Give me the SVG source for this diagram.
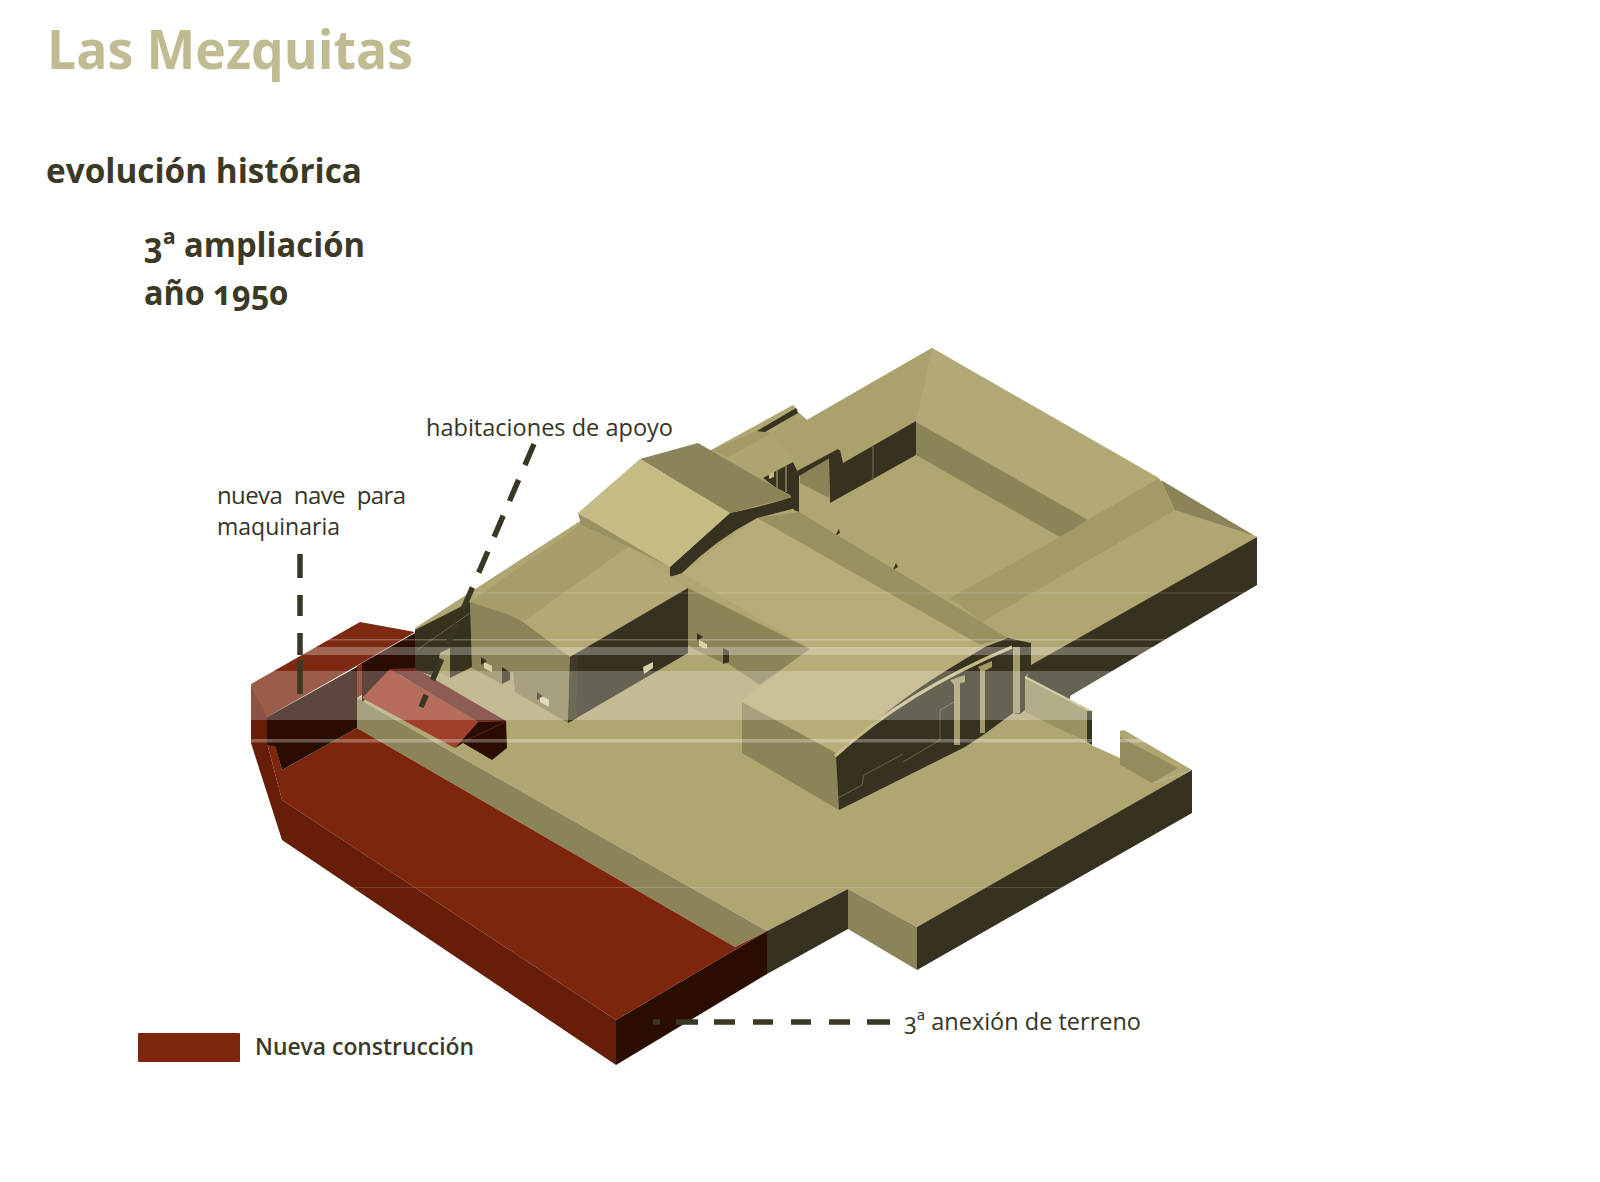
<svg xmlns="http://www.w3.org/2000/svg" width="1600" height="1182" viewBox="0 0 1600 1182">
<style>
.t{font-family:"Open Sans","Noto Sans","Liberation Sans",sans-serif;font-feature-settings:"onum" 1;}
.h{font-weight:700;fill:#3c3a26;font-size:34px;}
.l{font-weight:400;fill:#37341f;font-size:24px;}
.base{fill:#b0a672}.mid{fill:#8c8459}.soft{fill:#9a9163}.band{fill:#a39a68}.lite{fill:#c5bb85}.roof{fill:#b8ad78}
.dk{fill:#37321f}.rd{fill:#7e260b}.rdk{fill:#2a0d00}.rsd{fill:#661e08}
.ov{fill:#fff}
.cn{fill:none;stroke:#3a3724;stroke-width:5.5}
</style>
<rect width="1600" height="1182" fill="#fff"/>
<g id="titles">
<text class="t" x="47" y="69" font-size="54" font-weight="700" fill="#c1bb92" textLength="366" lengthAdjust="spacingAndGlyphs">Las Mezquitas</text>
<text class="t h" x="46" y="183" textLength="316" lengthAdjust="spacingAndGlyphs">evolución histórica</text>
<text class="t h" x="144" y="257" textLength="221" lengthAdjust="spacingAndGlyphs">3ª ampliación</text>
<text class="t h" x="144" y="305" textLength="144" lengthAdjust="spacingAndGlyphs">año 1950</text>
</g>
<g id="building">
<polygon class="base" points="932,348 1257,537 1031,667 1028,712 1091,745 1120,758 1120,765 1154,783 1192,770 917,927 848,889 767,931 357,698 415,680 415,628 580,521 711,450 793,405 798,410 797,412 807,420"/>
<polygon fill="#aaa16d" points="932,348 916,422 843,463 838,450 797,473 793,460 772,433 798,412 807,420"/>
<polygon fill="#b3a976" points="932,348 1159,478 1088,520 916,422"/>
<polygon class="mid" points="1161,480 1175,510 1253,535"/>
<polygon class="mid" points="916,422 1088,520 1060,537 916,455"/>
<polygon class="band" points="1159,478 1175,510 982,622 950,598 1060,537 1088,520"/>
<polygon class="dk" points="843,463 916,421 916,455 830,503 829,458 838,450 840,450"/>
<path d="M873,446V480" stroke="#6a6650" stroke-width="1.2"/>
<polygon class="mid" points="800,475 829,458 829,498 800,483"/>
<polygon class="dk" points="797,471 838,449 840,452 799,476"/>
<polygon fill="#a39a68" points="713,450 757,431 772,433 727,458"/>
<polygon fill="#aea470" points="727,458 772,433 793,460 763,478"/>
<polygon class="dk" points="763,478 793,462 799,475 799,512 794,510 790,495 775,487"/>
<path d="M777,470V488M786,466V492" stroke="#8c8459" stroke-width="1.5" fill="none"/>
<polygon fill="#c5bb85" points="769,474 774,472 774,477 769,479"/>
<polygon class="dk" points="757,431 796,408 798,413 765,432"/>
<polygon points="835,536 840,533 839,529" class="dk"/>
<polygon points="893,570 898,567 896,563" class="dk"/>
<polygon class="soft" points="799,512 1008,638 980,645 757,518"/>
<polygon class="dk" points="1257,537 1257,585 1070,696 1070,702 1026,680 1031,665"/>
<polygon class="mid" points="688,588 810,649 760,685 730,665 688,645"/>
<path class="roof" d="M682,573 757,518 980,645 1008,638 985,647 947,670Q890,705 836,753L742,702 760,685 810,649Z"/>
<path class="dk" d="M730,513Q765,506 792,497L796,508 757,518Q715,540 682,573L670,577 670,567Z"/>
<polygon class="soft" points="578,513 581,525 629,547 670,567"/>
<polygon class="mid" points="640,459 698,443 792,497 730,513"/>
<polygon class="lite" points="640,459 578,513 670,567 730,513"/>
<polygon fill="#a79d6a" points="470,602 580,525 629,547 610,560 523,622 510,615"/>
<polygon fill="#b4a974" points="523,622 610,560 629,547 688,588 570,657 543,637"/>
<polygon class="dk" points="570,657 688,588 688,653 568,723"/>
<polygon class="mid" points="470,602 510,615 523,622 543,637 570,657 568,723 515,692 513,672 510,672 502,667 502,684 472,668"/>
<polygon points="568,723 570,657 578,653 577,718" fill="#3f3a26"/>
<polygon class="dk" points="415,630 470,602 472,667 450,678 450,648 440,653 436,677 415,670"/>
<path d="M417,650 470,613" stroke="#6a6650" stroke-width="1"/>
<polygon fill="#a59c6c" points="440,655 450,650 450,678 438,672"/>
<polygon class="dk" points="502,667 510,672 510,680 502,684"/>
<g fill="#d8d2a8"><polygon points="484,662 492,666 492,672 484,668"/><polygon points="540,695 549,700 549,707 540,702"/><polygon points="643,667 653,662 653,668 644,674"/><polygon points="699,640 707,644 707,650 699,646"/></g>
<g class="dk"><polygon points="481,657 487,661 481,665"/><polygon points="537,692 543,696 537,700"/><polygon points="697,633 703,637 697,641"/></g>
<polygon class="mid" points="690,647 723,650 723,663"/>
<polygon class="dk" points="723,648 729,651 729,662 723,664"/>
<polygon class="mid" points="742,702 836,753 839,810 742,753"/>
<path class="dk" d="M836,757Q890,705 947,670L985,647 1008,638 1031,643 1031,670 1025,677 1025,710 1020,714 1013,713 986,733 965,747 839,810Z"/>
<path d="M835,756Q905,692 1012,647" stroke="#c5bb85" stroke-width="3.5" fill="none"/>
<g class="band"><rect x="954" y="680" width="6" height="65"/><rect x="980" y="668" width="5" height="65"/><rect x="1013" y="647" width="7" height="66"/><polygon points="950,680 965,675 965,682 954,685"/><polygon points="978,667 992,661 992,667 982,672"/></g>
<path d="M838,798 862,785 864,775 903,754M903,762 940,740 940,710 954,702" stroke="#6a6650" stroke-width="1" fill="none"/>
<polygon fill="#9b9263" points="1025,677 1092,712 1092,745 1025,712"/>
<path d="M1025,677 1092,712" stroke="#c5bb85" stroke-width="2.5"/>
<polygon class="dk" points="1087,711 1092,711 1092,745 1087,742"/>
<polygon class="base" points="1120,731 1124,730 1192,770 1154,783 1120,765"/>
<polygon fill="#948b5e" points="1120,737 1178,768 1152,783 1120,765"/>
<polygon class="dk" points="1192,770 1192,813 917,970 917,927"/>
<polygon class="dk" points="767,931 848,889 848,929 767,974"/>
<polygon class="mid" points="848,889 917,927 917,970 848,929"/>
</g>
<g id="nueva-construccion">
<polygon class="mid" points="357,698 767,931 735,947 357,728"/>
<polygon class="rd" points="267,743 275,745 282,770 357,728 735,947 767,931 616,1020 282,800"/>
<polygon class="rsd" points="251,743 267,743 282,800 616,1020 616,1065 282,840"/>
<polygon class="rsd" points="251,684 267,715 267,743 251,743"/>
<polygon class="rdk" points="767,931 616,1020 616,1065 767,974"/>
<polygon fill="#7e2a12" points="251,684 360,622 415,632 358,665 267,717"/>
<polygon class="rdk" points="267,717 357,667 357,728 282,770 275,746 267,745"/>
<polygon fill="#7e2a12" points="357,666 362,663 362,695 357,698"/>
<polygon class="rdk" points="362,663 415,633 415,672 395,675 362,702"/>
<polygon fill="#a0402a" points="362,698 390,669 478,722 455,748"/>
<polygon fill="#6a2a1e" points="390,669 415,668 506,721 478,722"/>
<polygon class="rdk" points="478,722 506,721 507,748 492,760 463,743 455,748"/>
<path d="M465,741 505,722" stroke="#5a2a1c" stroke-width="1"/>
</g>
<g id="light-bands" class="ov">
<rect y="592.5" width="1600" height="1" opacity=".2"/>
<rect y="639" width="1600" height="1.5" opacity=".25"/>
<rect y="647" width="1600" height="8" opacity=".28"/>
<rect y="671" width="1600" height="49" opacity=".24"/>
<rect y="739" width="1600" height="3.5" opacity=".3"/>
<rect y="887" width="1600" height="1" opacity=".15"/>
</g>
<g id="connectors">
<path class="cn" d="M300,554V578M300,595V616M300,633V655M300,660V694"/>
<path class="cn" d="M534,444 421,707" stroke-dasharray="23 16"/>
<path class="cn" d="M653,1022H660M676,1022H698M714,1022H735M753,1022H773M791,1022H811M829,1022H850M867,1022H890" stroke="#46432c"/>
</g>
<g id="labels">
<text class="t l" x="426" y="436" textLength="247" lengthAdjust="spacingAndGlyphs">habitaciones de apoyo</text>
<text class="t l" x="217" y="504" textLength="189" lengthAdjust="spacing" word-spacing="6">nueva nave para</text>
<text class="t l" x="217" y="535" textLength="123" lengthAdjust="spacingAndGlyphs">maquinaria</text>
<text class="t l" x="904" y="1030" textLength="237" lengthAdjust="spacingAndGlyphs">3ª anexión de terreno</text>
</g>
<g id="legend">
<rect x="138" y="1033" width="102" height="29" rx="1" class="rd"/>
<text class="t" x="255" y="1055" font-size="23" font-weight="600" fill="#3c3a26" textLength="219" lengthAdjust="spacingAndGlyphs">Nueva construcción</text>
</g>
</svg>
